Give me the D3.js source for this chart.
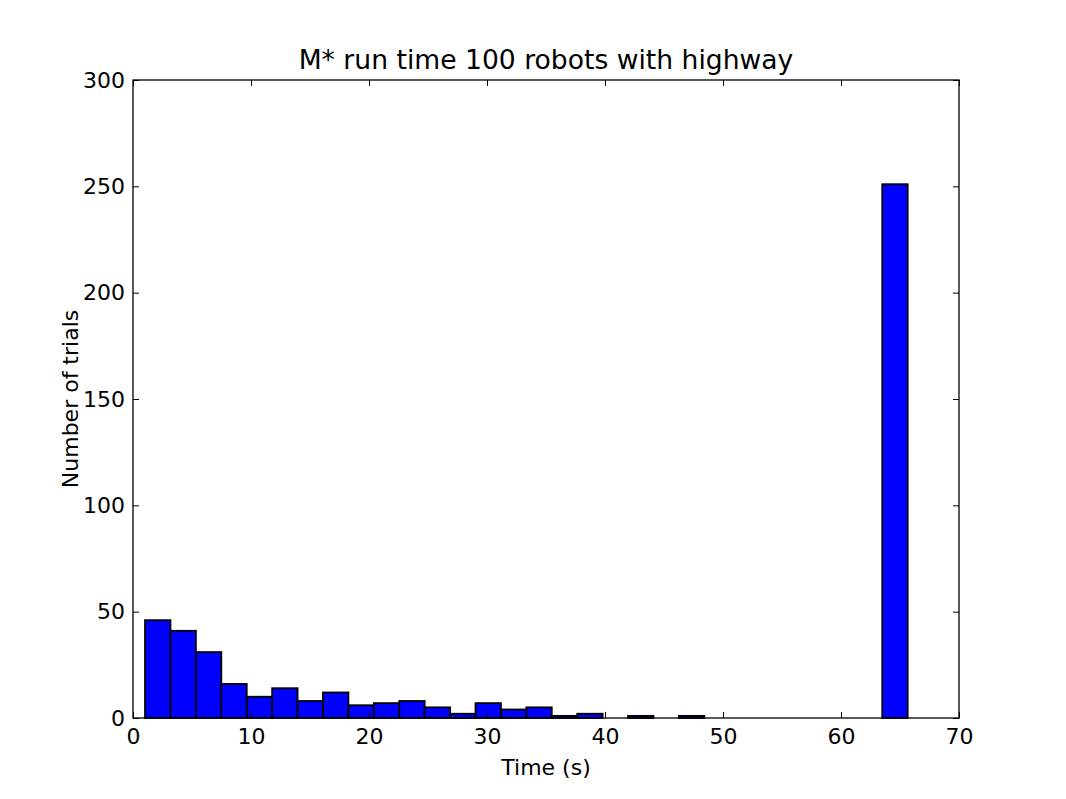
<!DOCTYPE html>
<html>
<head>
<meta charset="utf-8">
<script src="https://cdn.jsdelivr.net/npm/d3@7"></script>
<style>
body { margin: 0; background: white; }
text { font-family: "DejaVu Sans", sans-serif; fill: black; }
</style>
</head>
<body>
<script>
// histogram of run times, 30 bins between binLo and binHi
const binLo = 1.02;
const binHi = 65.65;
const counts = [46, 41, 31, 16, 10, 14, 8, 12, 6, 7,
                8, 5, 2, 7, 4, 5, 1, 2, 0, 1,
                0, 1, 0, 0, 0, 0, 0, 0, 0, 251];
const xTicks = [0, 10, 20, 30, 40, 50, 60, 70];
const yTicks = [0, 50, 100, 150, 200, 250, 300];

function init(){
	const W = 1066, H = 799;
	const m = {left: 133, right: 959, top: 80, bottom: 718};

	const svg = d3.select("body").append("svg")
		.attr("width", W)
		.attr("height", H);

	const x = d3.scaleLinear().domain([0, 70]).range([m.left, m.right]);
	const y = d3.scaleLinear().domain([0, 300]).range([m.bottom, m.top]);

	const bw = (binHi - binLo) / counts.length;
	const bins = counts.map((c, i) => ({x0: binLo + i * bw, x1: binLo + (i + 1) * bw, n: c}));

	svg.append("g").selectAll("rect")
		.data(bins.filter(d => d.n > 0))
		.join("rect")
		.attr("x", d => x(d.x0))
		.attr("width", d => x(d.x1) - x(d.x0))
		.attr("y", d => y(d.n))
		.attr("height", d => y(0) - y(d.n))
		.attr("fill", "#0000ff")
		.attr("stroke", "black")
		.attr("stroke-width", 1.8);

	const tl = 6;
	const xb = d3.axisBottom(x).tickValues(xTicks).tickSizeInner(-tl).tickSizeOuter(0).tickPadding(10);
	const xt = d3.axisTop(x).tickValues(xTicks).tickSizeInner(-tl).tickSizeOuter(0).tickFormat("");
	const yl = d3.axisLeft(y).tickValues(yTicks).tickSizeInner(-tl).tickSizeOuter(0).tickPadding(8);
	const yr = d3.axisRight(y).tickValues(yTicks).tickSizeInner(-tl).tickSizeOuter(0).tickFormat("");

	const gb = svg.append("g").attr("transform", `translate(0,${m.bottom})`).call(xb);
	const gt = svg.append("g").attr("transform", `translate(0,${m.top})`).call(xt);
	const gl = svg.append("g").attr("transform", `translate(${m.left},0)`).call(yl);
	const gr = svg.append("g").attr("transform", `translate(${m.right},0)`).call(yr);

	[gb, gt, gl, gr].forEach(g => {
		g.select(".domain").remove();
		g.selectAll(".tick line").attr("stroke", "black").attr("stroke-width", 1);
		g.selectAll("text").style("font-size", "22px").style("font-family", "DejaVu Sans");
	});

	svg.append("rect")
		.attr("x", m.left).attr("y", m.top)
		.attr("width", m.right - m.left).attr("height", m.bottom - m.top)
		.attr("fill", "none").attr("stroke", "black").attr("stroke-width", 1.3);

	svg.append("text")
		.attr("x", (m.left + m.right) / 2).attr("y", 69)
		.attr("text-anchor", "middle").style("font-size", "26.6px")
		.text("M* run time 100 robots with highway");

	svg.append("text")
		.attr("x", (m.left + m.right) / 2).attr("y", 775)
		.attr("text-anchor", "middle").style("font-size", "22px")
		.text("Time (s)");

	svg.append("text")
		.attr("transform", `translate(78,${(m.top + m.bottom) / 2}) rotate(-90)`)
		.attr("text-anchor", "middle").style("font-size", "22px")
		.text("Number of trials");
}
init();
</script>
</body>
</html>
